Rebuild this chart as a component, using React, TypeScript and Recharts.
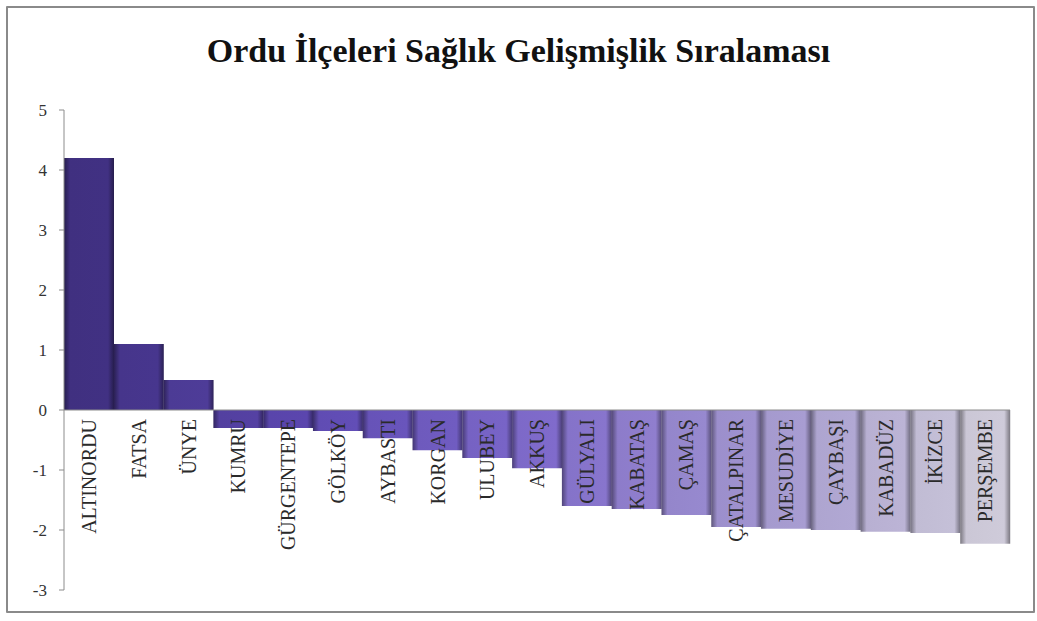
import React from 'react';
import {
  BarChart,
  Bar,
  XAxis,
  YAxis,
  ReferenceLine,
  Cell,
  LabelList
} from 'recharts';

// ilçe adları (grafikteki sırayla)
const districts: string[] = [
  'ALTINORDU', 'FATSA', 'ÜNYE', 'KUMRU', 'GÜRGENTEPE', 'GÖLKÖY', 'AYBASTI',
  'KORGAN', 'ULUBEY', 'AKKUŞ', 'GÜLYALI', 'KABATAŞ', 'ÇAMAŞ', 'ÇATALPINAR',
  'MESUDİYE', 'ÇAYBAŞI', 'KABADÜZ', 'İKİZCE', 'PERŞEMBE'
];

// sağlık gelişmişlik endeksi
const scores: number[] = [
  4.2, 1.1, 0.5, -0.3, -0.3, -0.35, -0.47,
  -0.67, -0.8, -0.97, -1.6, -1.65, -1.75, -1.95,
  -1.98, -2.0, -2.03, -2.05, -2.23
];

const yTicks: number[] = [-3, -2, -1, 0, 1, 2, 3, 4, 5];

const data = districts.map((name, i) => ({ name, value: scores[i] }));

const serif = "'Liberation Serif', 'DejaVu Serif', serif";

// koyu mordan açık griye renk geçişi
const stops: [number, number, number][] = [
  [64, 48, 128],
  [92, 72, 176],
  [125, 105, 200],
  [160, 148, 205],
  [203, 199, 214]
];

const mix = (t: number) => {
  const p = t * (stops.length - 1);
  const i = Math.min(Math.floor(p), stops.length - 2);
  const f = p - i;
  return stops[i].map((v, k) => Math.round(v + (stops[i + 1][k] - v) * f));
};

const rgb = (c: number[], k: number) =>
  `rgb(${c.map((v) => Math.max(0, Math.min(255, Math.round(v * k)))).join(',')})`;

const NameLabel = (props: any) => {
  const { x, y, width, height, value, index } = props;
  const v = scores[index];
  const top = Math.min(y, y + height);
  const bottom = Math.max(y, y + height);
  const zeroY = v >= 0 ? bottom : top;
  const cx = x + width / 2;
  const ty = zeroY + 9;
  return (
    <text
      x={cx}
      y={ty}
      transform={`rotate(-90, ${cx}, ${ty})`}
      textAnchor="end"
      dominantBaseline="central"
      fontFamily={serif}
      fontSize={20}
      fill="#2a2a2a"
    >
      {value}
    </text>
  );
};

const App: React.FC = () => {
  return (
    <div
      style={{
        position: 'absolute',
        left: 0,
        top: 0,
        width: 1037,
        height: 621,
        background: '#ffffff'
      }}
    >
      <div
        style={{
          position: 'absolute',
          left: 6,
          top: 6,
          width: 1025,
          height: 603,
          border: '2px solid #8a8a8a',
          borderRadius: 1
        }}
      />
      <div
        style={{
          position: 'absolute',
          left: 0,
          top: 32,
          width: 1037,
          textAlign: 'center',
          fontFamily: serif,
          fontWeight: 'bold',
          fontSize: 34,
          color: '#111'
        }}
      >
        Ordu İlçeleri Sağlık Gelişmişlik Sıralaması
      </div>
      <div style={{ position: 'absolute', left: 0, top: 0 }}>
        <BarChart
          width={1037}
          height={621}
          data={data}
          margin={{ top: 110, right: 27, bottom: 31, left: 0 }}
          barCategoryGap={0}
        >
          <defs>
            {data.map((d, i) => {
              const c = mix(i / (data.length - 1));
              return (
                <linearGradient key={d.name} id={`bg${i}`} x1="0" y1="0" x2="1" y2="0">
                  <stop offset="0%" stopColor={rgb(c, 0.6)} />
                  <stop offset="12%" stopColor={rgb(c, 1.0)} />
                  <stop offset="88%" stopColor={rgb(c, 1.02)} />
                  <stop offset="100%" stopColor={rgb(c, 0.6)} />
                </linearGradient>
              );
            })}
          </defs>
          <XAxis dataKey="name" hide />
          <YAxis
            width={64}
            domain={[-3, 5]}
            ticks={yTicks}
            interval={0}
            axisLine={{ stroke: '#8c8c8c' }}
            tickLine={{ stroke: '#8c8c8c' }}
            tickSize={5}
            tickMargin={12}
            tick={{ fill: '#333', fontSize: 17, fontFamily: serif }}
          />
          <ReferenceLine y={0} stroke="#8c8c8c" />
          <Bar dataKey="value" isAnimationActive={false}>
            {data.map((d, i) => (
              <Cell key={d.name} fill={`url(#bg${i})`} />
            ))}
            <LabelList dataKey="name" content={NameLabel} />
          </Bar>
        </BarChart>
      </div>
    </div>
  );
};

export default App;
